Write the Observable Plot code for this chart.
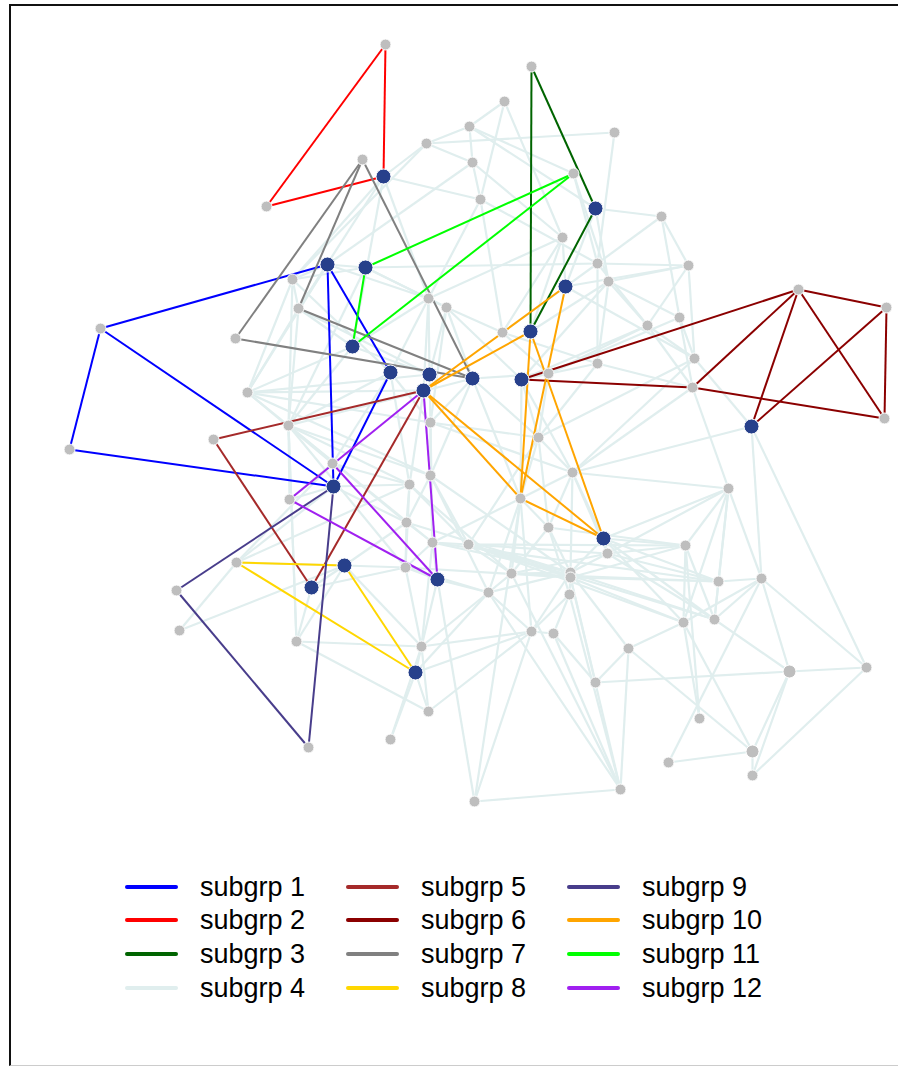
<!DOCTYPE html>
<html>
<head>
<meta charset="utf-8">
<script src="https://cdn.jsdelivr.net/npm/d3@7"></script>
<script src="https://cdn.jsdelivr.net/npm/@observablehq/plot@0.6"></script>
<style>
  html, body { margin: 0; padding: 0; background: #fff; width: 898px; height: 1066px; overflow: hidden; }
  #frame { position: absolute; left: 9px; top: 4px; width: 1000px; height: 1059px;
           border-left: 2px solid #111; border-top: 2px solid #111; border-bottom: 1px solid #ccc; }
  #chart { position: absolute; left: 0; top: 0; }
  #legend { position: absolute; left: 0; top: 0; font-family: "Liberation Sans", Arial, sans-serif; }
  .item { position: absolute; display: flex; align-items: center; height: 30px; }
  .sw { width: 53px; height: 3.5px; border-radius: 2px; margin-right: 22px; }
  .lab { font-size: 27px; color: #000; line-height: 1; white-space: nowrap; }
</style>
</head>
<body>
<div id="frame"></div>
<div id="chart"></div>
<div id="legend"></div>
<script>
// ---- node layout (layout coordinates) ----
const blueNodes = [
  ["b1",383,176],["b2",595,208],["b3",327,264],["b4",365,267],["b5",565,286],
  ["b6",352,346],["b7",530,331],["b8",390,372],["b9",429,374],["b10",472,378],
  ["b11",521,379],["b12",423,390],["b13",751,426],["b14",333,486],["b15",603,538],
  ["b16",344,565],["b17",311,587],["b18",437,579],["b19",415,672]
];
const grayNodes = [
  ["g1",385,44],["g2",531,66],["g3",504,101],["g4",469,126],["g5",426,143],
  ["g6",614,132],["g7",362,159],["g8",472,162],["g9",573,173],["g10",480,199],
  ["g11",266,206],["g12",661,216],["g13",562,237],["g14",597,263],["g15",688,265],
  ["g16",608,281],["g17",292,279],["g18",298,308],["g19",428,298],["g20",446,307],
  ["g21",100,328],["g22",679,317],["g23",647,325],["g24",502,332],["g25",235,338],
  ["g26",694,358],["g27",597,363],["g28",548,373],["g29",692,387],["g30",798,289],
  ["g31",886,307],["g32",884,418],["g33",247,392],["g34",288,425],["g35",213,439],
  ["g36",430,422],["g37",538,437],["g38",69,449],["g39",332,463],["g40",572,472],
  ["g41",430,475],["g42",409,484],["g43",728,488],["g44",520,498],["g45",289,499],
  ["g46",406,522],["g47",548,527],["g48",432,542],["g49",468,544],["g50",685,545],
  ["g51",607,553],["g52",236,562],["g53",405,567],["g54",511,573],["g55",570,572],
  ["g56",570,577],["g57",718,581],["g58",761,578],["g59",176,590],["g60",488,592],
  ["g61",569,594],["g62",683,622],["g63",714,619],["g64",179,630],["g65",531,631],
  ["g66",553,633],["g67",296,641],["g68",421,646],["g69",628,648],["g70",789,671],
  ["g71",866,667],["g72",595,682],["g73",428,711],["g74",699,718],["g75",390,739],
  ["g76",308,747],["g77",752,751],["g78",668,762],["g79",752,775],["g80",620,789],
  ["g81",474,801]
];
const largeGray = ["g70","g77"];
const hiddenNodes = [["h1",531,244],["h2",340,623],["h3",268,700],["h4",657,423],["h5",482,676]];

// ---- groups ----
const groupNames = ["subgrp 1","subgrp 2","subgrp 3","subgrp 4","subgrp 5","subgrp 6",
                    "subgrp 7","subgrp 8","subgrp 9","subgrp 10","subgrp 11","subgrp 12"];
const groupColors = ["#0000FF","#FF0000","#006400","#E0EEEE","#A52A2A","#8B0000",
                     "#808080","#FFD700","#483D8B","#FFA500","#00FF00","#A020F0"];

// ---- highlighted subgroup edges: [group, from, to] ----
const groupEdges = [
  ["subgrp 1","b3","g21"],["subgrp 1","g21","g38"],["subgrp 1","g38","b14"],["subgrp 1","g21","b14"],
  ["subgrp 1","b3","b14"],["subgrp 1","b3","b8"],["subgrp 1","b8","b14"],
  ["subgrp 2","g1","g11"],["subgrp 2","g1","b1"],["subgrp 2","g11","b1"],
  ["subgrp 3","g2","b2"],["subgrp 3","g2","b7"],["subgrp 3","b2","b7"],
  ["subgrp 5","g35","b12"],["subgrp 5","g35","b17"],["subgrp 5","b17","b12"],
  ["subgrp 6","b11","g30"],["subgrp 6","b11","g29"],["subgrp 6","g29","g30"],["subgrp 6","g30","b13"],
  ["subgrp 6","g30","g32"],["subgrp 6","g30","g31"],["subgrp 6","g31","g32"],["subgrp 6","g31","b13"],
  ["subgrp 6","g29","g32"],
  ["subgrp 7","g7","g25"],["subgrp 7","g7","g18"],["subgrp 7","g7","b10"],["subgrp 7","g25","b10"],["subgrp 7","g18","b10"],
  ["subgrp 8","g52","b16"],["subgrp 8","g52","b19"],["subgrp 8","b16","b19"],
  ["subgrp 9","b14","g59"],["subgrp 9","g59","g76"],["subgrp 9","g76","b14"],
  ["subgrp 10","b5","b12"],["subgrp 10","b7","b12"],["subgrp 10","b7","g44"],["subgrp 10","b5","g44"],
  ["subgrp 10","b12","g44"],["subgrp 10","b12","b15"],["subgrp 10","g44","b15"],["subgrp 10","b7","b15"],
  ["subgrp 11","b4","g9"],["subgrp 11","b4","b6"],["subgrp 11","b6","g9"],
  ["subgrp 12","b12","b18"],["subgrp 12","b12","g45"],["subgrp 12","g45","b18"],["subgrp 12","g39","b18"]
];

// ---- background (subgrp 4) edges: [from, to] ----
const lightEdges = [
  ["g3","g4"],["g3","g10"],["g3","g13"],
  ["g4","g5"],["g4","g8"],["g4","g9"],["g4","b2"],
  ["g5","g6"],["g5","g17"],["g5","b1"],["g5","g8"],
  ["g6","g14"],
  ["g8","g10"],["g8","b3"],["g8","g13"],
  ["g9","g14"],["g9","g16"],
  ["g10","g19"],["g10","g24"],["g10","g14"],
  ["b1","g10"],["b1","g17"],["b1","g18"],["b1","g19"],["b1","b6"],
  ["g12","b2"],["g12","g14"],["g12","g15"],["g12","g22"],
  ["g13","b5"],["g13","g24"],["g13","g19"],["g13","b7"],
  ["g14","g15"],["g14","g23"],["g14","g24"],["g14","g27"],["g14","b4"],
  ["g15","g26"],["g15","g16"],["g15","g23"],["g15","b5"],
  ["g16","g22"],["g16","g23"],["g16","b7"],["g16","b11"],["g16","g27"],
  ["b2","b5"],["b2","g16"],
  ["g22","g26"],["g22","g29"],["g22","g28"],
  ["g23","g26"],["g23","g29"],["g23","b11"],["g23","g28"],
  ["g26","g40"],["g26","b5"],["g26","b13"],["g26","g37"],
  ["g27","g29"],["g27","b11"],["g27","g37"],["g27","g24"],
  ["g28","g24"],["g28","g37"],["g28","b10"],
  ["g29","g43"],["g29","g40"],
  ["b3","g17"],["b3","g33"],["b3","g18"],["b3","b4"],["b3","g19"],
  ["b4","g19"],["b4","g17"],["b4","g34"],["b4","g20"],
  ["g17","g33"],["g17","g34"],["g17","b8"],["g17","g18"],
  ["g18","g34"],["g18","g33"],["g18","b6"],["g18","b9"],
  ["b6","g34"],["b6","g19"],["b6","b9"],["b6","g33"],
  ["g19","g20"],["g19","b9"],["g19","b12"],["g19","b8"],
  ["g20","b10"],["g20","b9"],["g20","g24"],["g20","b11"],["g20","g36"],
  ["g33","g34"],["g33","g36"],["g33","b9"],["g33","g41"],["g33","g39"],["g33","b12"],
  ["g34","g41"],["g34","g42"],["g34","g48"],["g34","g45"],["g34","g67"],["g34","b8"],
  ["g34","g46"],["g34","g53"],["g34","b10"],
  ["b8","g36"],["b8","g42"],["b8","g39"],
  ["b9","g36"],["b10","g36"],["b10","g41"],["b10","g37"],["b10","g44"],
  ["b11","g37"],["b11","g44"],["b11","g40"],["b11","g28"],
  ["b12","g41"],["b12","g42"],
  ["g36","g41"],["g36","g37"],["g36","g48"],["g36","g40"],
  ["g39","b14"],["g39","g42"],["g39","g45"],
  ["g37","g40"],["g37","g44"],["g37","g47"],["g37","g49"],
  ["g40","g47"],["g40","g44"],["g40","b15"],["g40","g43"],["g40","g51"],["g40","g55"],
  ["g41","g46"],["g41","g48"],["g41","g49"],["g41","g55"],["g41","g60"],
  ["g42","g46"],["g42","g49"],["g42","g53"],["g42","g52"],["g42","g54"],
  ["b14","g45"],["b14","g52"],["b14","g46"],["b14","g42"],
  ["g44","g48"],["g44","g60"],["g44","g54"],["g44","g65"],["g44","g47"],
  ["g46","g53"],["g46","g48"],["g46","b16"],["g46","g55"],
  ["g47","g54"],["g47","g61"],["g47","g55"],["g47","g50"],
  ["g48","g49"],["g48","g53"],["g48","g68"],["g48","g55"],["g48","g57"],
  ["g49","g55"],["g49","g51"],["g49","g50"],["g49","g56"],["g49","g62"],["g49","g54"],["g49","g63"],
  ["b15","g43"],["b15","g50"],["b15","g55"],["b15","g51"],["b15","g57"],["b15","g62"],["b15","g63"],
  ["g43","g57"],["g43","g58"],["g43","g62"],["g43","g63"],["g43","g51"],["g43","g50"],
  ["g50","g51"],["g50","g62"],["g50","g74"],["g50","g56"],["g50","g63"],
  ["g51","g57"],["g51","g63"],["g51","g55"],["g51","g54"],
  ["g53","b16"],["g53","g68"],["g53","g56"],["g53","g60"],
  ["g54","g55"],["g54","g56"],["g54","g60"],["g54","g80"],["g54","g57"],
  ["g55","g60"],["g55","g61"],["g55","g63"],["g55","g65"],["g55","g69"],
  ["g56","g62"],["g56","g80"],["g56","g57"],["g56","g72"],
  ["g57","g63"],["g57","g58"],
  ["g58","g63"],["g58","g70"],["g58","g71"],["g58","g78"],["g58","g62"],
  ["b13","g58"],["b13","g71"],["b13","g40"],
  ["g60","g65"],["g60","g80"],["g60","g68"],
  ["g61","g65"],["g61","g80"],["g61","g66"],
  ["g62","g77"],["g62","g74"],["g62","g69"],
  ["g63","g70"],
  ["g65","g81"],["g65","g66"],["g65","g68"],
  ["g66","g80"],["g66","g72"],
  ["g69","g80"],["g69","g77"],["g69","g72"],
  ["g70","g71"],["g70","g77"],["g70","g79"],["g70","g72"],
  ["g71","g79"],
  ["g77","g78"],["g77","g79"],
  ["b16","g52"],["b16","g64"],["b16","g67"],["b16","b17"],["b16","g68"],
  ["b17","g67"],["b17","g53"],
  ["g52","g64"],["g52","g39"],
  ["b18","g81"],["b18","g53"],["b18","g60"],["b18","g68"],["b18","g48"],
  ["b19","g68"],["b19","g73"],["b19","g75"],["b19","g60"],["b19","g65"],
  ["g68","g73"],["g68","g75"],["g67","g68"],["g67","g73"],["g67","g34"],
  ["g73","g65"],
  ["g81","g80"],["g81","g44"]
];

// ---- build tables ----
const pos = new Map();
for (const [id,x,y] of [...blueNodes, ...grayNodes, ...hiddenNodes]) pos.set(id, {x, y});
const toLink = (g, a, b) => ({group: g, x1: pos.get(a).x, y1: pos.get(a).y, x2: pos.get(b).x, y2: pos.get(b).y});
const light = lightEdges.map(([a,b]) => toLink("subgrp 4", a, b));
const colored = groupEdges.map(([g,a,b]) => toLink(g, a, b));
const nodes = [
  ...grayNodes.map(([id,x,y]) => ({id, x, y, kind: largeGray.includes(id) ? "big" : "gray"})),
  ...blueNodes.map(([id,x,y]) => ({id, x, y, kind: "blue"}))
];
const hidden = hiddenNodes.map(([id,x,y]) => ({id, x, y}));

const W = 898, H = 850;
const chart = Plot.plot({
  width: W, height: H, margin: 0,
  x: {domain: [0, W], range: [0, W], axis: null},
  y: {domain: [0, H], range: [0, H], axis: null},
  color: {domain: groupNames, range: groupColors},
  marks: [
    Plot.link(light, {x1: "x1", y1: "y1", x2: "x2", y2: "y2", stroke: "group", strokeWidth: 2.2}),
    Plot.dot(hidden, {x: "x", y: "y", r: 4.5, fill: "white", stroke: "none"}),
    Plot.link(colored, {x1: "x1", y1: "y1", x2: "x2", y2: "y2", stroke: "group", strokeWidth: 2}),
    Plot.dot(nodes.filter(d => d.kind === "gray"), {x: "x", y: "y", r: 5.5, fill: "#BEBEBE", stroke: "white", strokeWidth: 1}),
    Plot.dot(nodes.filter(d => d.kind === "big"), {x: "x", y: "y", r: 6.5, fill: "#BEBEBE", stroke: "white", strokeWidth: 1}),
    Plot.dot(nodes.filter(d => d.kind === "blue"), {x: "x", y: "y", r: 7.5, fill: "#27408B", stroke: "white", strokeWidth: 1})
  ]
});
document.getElementById("chart").appendChild(chart);

// ---- legend (3 columns x 4 rows) ----
const legend = document.getElementById("legend");
const colX = [125, 346, 567];
const rowY = [887, 920, 954, 988];
groupNames.forEach((name, i) => {
  const col = Math.floor(i / 4), row = i % 4;
  const item = document.createElement("div");
  item.className = "item";
  item.style.left = colX[col] + "px";
  item.style.top = (rowY[row] - 15) + "px";
  const sw = document.createElement("div");
  sw.className = "sw";
  sw.style.background = groupColors[i];
  const lab = document.createElement("span");
  lab.className = "lab";
  lab.textContent = name;
  item.appendChild(sw); item.appendChild(lab);
  legend.appendChild(item);
});
</script>
</body>
</html>
